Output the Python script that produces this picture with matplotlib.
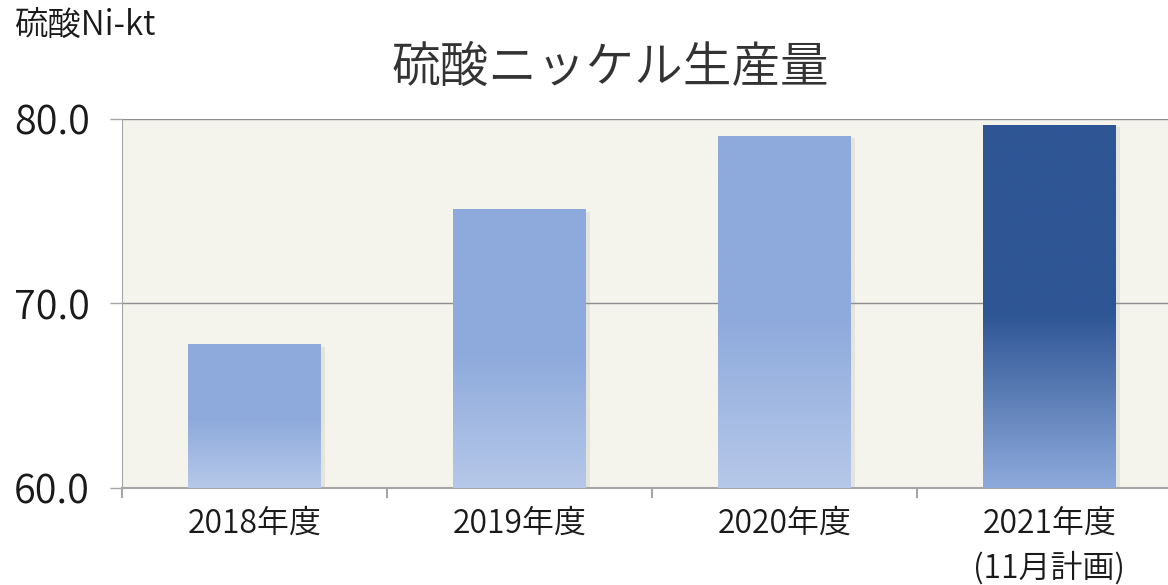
import numpy as np
import matplotlib
matplotlib.use("Agg")
import matplotlib.pyplot as plt
import matplotlib.patheffects as pe
from matplotlib.colors import to_rgb

plt.rcParams['font.family'] = ['Noto Sans CJK JP', 'DejaVu Sans']
plt.rcParams['font.weight'] = 350

###
### Data
###
categories = ["2018年度", "2019年度", "2020年度", "2021年度\n(11月計画)"]
values     = [67.8, 75.1, 79.1, 79.7]
y_ticks    = [60.0, 70.0, 80.0]
title      = "硫酸ニッケル生産量"
unit_label = "硫酸Ni-kt"

# bar styles: (top colour, bottom colour)
bar_styles = [("#8eaadc", "#b6c8e9"),
              ("#8eaadc", "#b6c8e9"),
              ("#8eaadc", "#b6c8e9"),
              ("#2e5594", "#8eaadc")]
solid_frac = 0.52   # part of bar (from top) in plain colour

###
### Plot
###
fig = plt.figure(figsize=(11.68, 5.85), dpi=100)
ax = fig.add_axes([122/1168, 97/585, 1060/1168, 369/585])
ax.set_facecolor("#f4f4ec")

x = np.arange(len(categories))
ymin = y_ticks[0]
bars = ax.bar(x, np.array(values) - ymin, bottom=ymin, width=0.5,
              color=[s[0] for s in bar_styles], linewidth=0, zorder=2,
              path_effects=[pe.SimplePatchShadow(offset=(3, -2), shadow_rgbFace="#a0a098", alpha=0.18),
                            pe.Normal()])

for bar, (c_top, c_bot) in zip(bars, bar_styles):
    n = 200
    t = np.linspace(0, 1, n)
    f = np.clip((t - solid_frac) / (1 - solid_frac), 0, 1)[:, None]
    img = (1 - f) * np.array(to_rgb(c_top)) + f * np.array(to_rgb(c_bot))
    img = img[:, None, :]
    x0 = bar.get_x()
    x1 = x0 + bar.get_width()
    y1 = bar.get_y() + bar.get_height()
    im = ax.imshow(img, extent=[x0, x1, ymin, y1], origin='upper',
                   aspect='auto', zorder=3, interpolation='bilinear')
    im.set_clip_path(bar)

ax.set_xlim(-0.5, len(categories) - 0.5)
ax.set_ylim(y_ticks[0], y_ticks[-1])
ax.set_yticks(y_ticks)
ax.set_yticklabels(["{:.1f}".format(v) for v in y_ticks])
ax.set_xticks(x)
ax.set_xticklabels(categories, linespacing=1.45)
ax.set_xticks(np.arange(len(categories) + 1) - 0.5, minor=True)

ax.grid(axis='y', color="#8c8c8c", linewidth=1.0)
ax.set_axisbelow(True)
for s in ['top', 'right']:
    ax.spines[s].set_visible(False)
ax.spines['left'].set_color("#a6a6a6")
ax.spines['bottom'].set_color("#a6a6a6")
ax.spines['bottom'].set_linewidth(1.5)

ax.tick_params(axis='y', length=9, width=1, color="#a6a6a6", pad=14,
               labelsize=28.5, labelcolor="#1a1a1a")
ax.tick_params(axis='x', which='major', length=0, pad=14,
               labelsize=23, labelcolor="#1a1a1a")
ax.tick_params(axis='x', which='minor', length=7, width=1.5, color="#a6a6a6")

fig.text(610/1168, 1 - 68/585, title, ha='center', va='center',
         fontsize=35, color="#333333")
fig.text(14/1168, 1 - 25/585, unit_label, ha='left', va='center',
         fontsize=24, color="#1a1a1a")

fig.savefig("out.png", dpi=100)
